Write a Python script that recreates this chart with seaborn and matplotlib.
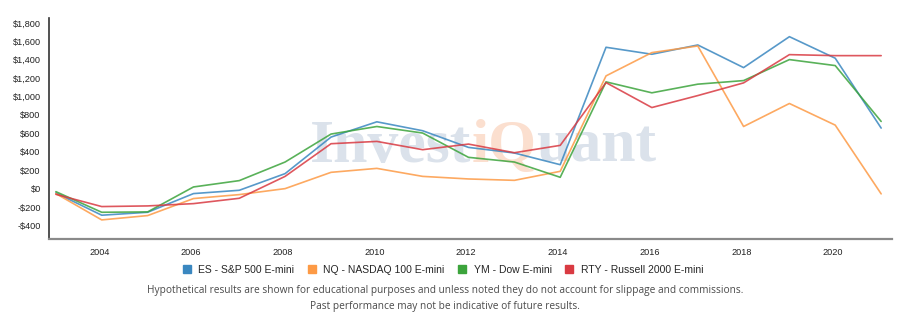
import matplotlib
matplotlib.use("Agg")
import matplotlib.pyplot as plt
import matplotlib.dates as mdates
from matplotlib.lines import Line2D
import seaborn as sns
import pandas as pd
import numpy as np

# ---------------- data ----------------
years = list(range(2003, 2022))
es_sp500 = [-47, -289, -257, -54, -18, 163, 560, 726, 629, 448, 387, 260, 1536, 1460, 1561, 1315, 1651, 1417, 658]
nq_nasdaq = [-54, -340, -293, -108, -65, 0, 177, 220, 133, 105, 90, 188, 1225, 1478, 1550, 675, 925, 690, -57]
ym_dow = [-33, -257, -253, 18, 87, 289, 593, 675, 604, 340, 289, 123, 1160, 1041, 1135, 1174, 1402, 1337, 730]
rty_russell = [-62, -195, -188, -163, -105, 133, 488, 513, 423, 484, 390, 470, 1152, 881, 1011, 1149, 1456, 1445, 1445]
series_names = ["ES - S&P 500 E-mini", "NQ - NASDAQ 100 E-mini", "YM - Dow E-mini", "RTY - Russell 2000 E-mini"]
y_ticks = [-400, -200, 0, 200, 400, 600, 800, 1000, 1200, 1400, 1600, 1800]
footnote1 = "Hypothetical results are shown for educational purposes and unless noted they do not account for slippage and commissions."
footnote2 = "Past performance may not be indicative of future results."

colors = ["#3a87c0", "#fd9a45", "#3ca43c", "#d93a42"]

dates = pd.to_datetime([f"{y}-01-19" for y in years])
frames = []
for name, vals in zip(series_names, [es_sp500, nq_nasdaq, ym_dow, rty_russell]):
    frames.append(pd.DataFrame({"date": dates, "value": vals, "series": name}))
df = pd.concat(frames, ignore_index=True)

# ---------------- figure ----------------
sns.set_style("white")
plt.rcParams["font.family"] = ["Liberation Sans", "DejaVu Sans"]

fig = plt.figure(figsize=(9.2, 3.15), dpi=100)
ax = fig.add_axes([49 / 920, 1 - 238.5 / 315, (891.7 - 49) / 920, (238.5 - 18) / 315])

sns.lineplot(data=df, x="date", y="value", hue="series", palette=colors,
             hue_order=series_names, ax=ax, linewidth=1.2, alpha=0.85,
             legend=False, zorder=2)

ax.set_xlim(pd.Timestamp("2002-11-25"), pd.Timestamp("2021-04-13"))
ax.set_ylim(-542, 1854)
ax.set_xlabel("")
ax.set_ylabel("")

ax.xaxis.set_major_locator(mdates.YearLocator(2))
ax.xaxis.set_major_formatter(mdates.DateFormatter("%Y"))
ax.set_yticks(y_ticks)
ax.set_yticklabels([("-$" if v < 0 else "$") + f"{abs(v):,}" for v in y_ticks])

ax.tick_params(axis="both", labelsize=6.6, colors="#222222", length=4, width=0.8,
               direction="out", pad=2)
ax.tick_params(axis="x", color="#555555", pad=3)
ax.tick_params(axis="y", color="#222222")
ax.grid(False)

for s in ["top", "right"]:
    ax.spines[s].set_visible(False)
ax.spines["left"].set_color("#333333")
ax.spines["left"].set_linewidth(1.2)
ax.spines["bottom"].set_color("#8a8a8a")
ax.spines["bottom"].set_linewidth(1.6)

# ---------------- watermark ----------------
wm_parts = [("Invest", "#dbe2eb"), ("iQ", "#fbdfcf"), ("uant", "#dbe2eb")]
renderer = fig.canvas.get_renderer()
x_px = 310
for txt, col in wm_parts:
    t = ax.text(x_px / 920, 1 - 162 / 315, txt, transform=fig.transFigure,
                fontsize=44.5, fontweight="bold", family=["Liberation Serif", "DejaVu Serif"],
                color=col, ha="left", va="baseline", zorder=0.5)
    bb = t.get_window_extent(renderer=renderer)
    x_px += bb.width

# ---------------- legend ----------------
handles = [Line2D([0], [0], marker="s", linestyle="none", markersize=6.3,
                  markerfacecolor=c, markeredgecolor=c) for c in colors]
fig.legend(handles, series_names, loc="center", bbox_to_anchor=(443 / 920, 1 - 270 / 315),
           ncol=4, frameon=False, fontsize=7.5, handlelength=0.8, handletextpad=0.7,
           columnspacing=1.3, borderaxespad=0, borderpad=0)

# ---------------- footnotes ----------------
fig.text(445 / 920, 1 - 291 / 315, footnote1, ha="center", va="center", fontsize=7.3,
         color="#4a4a4a", family=["Open Sans", "DejaVu Sans"])
fig.text(445 / 920, 1 - 306 / 315, footnote2, ha="center", va="center", fontsize=7.3,
         color="#4a4a4a", family=["Open Sans", "DejaVu Sans"])

fig.savefig("out.png", dpi=100)
